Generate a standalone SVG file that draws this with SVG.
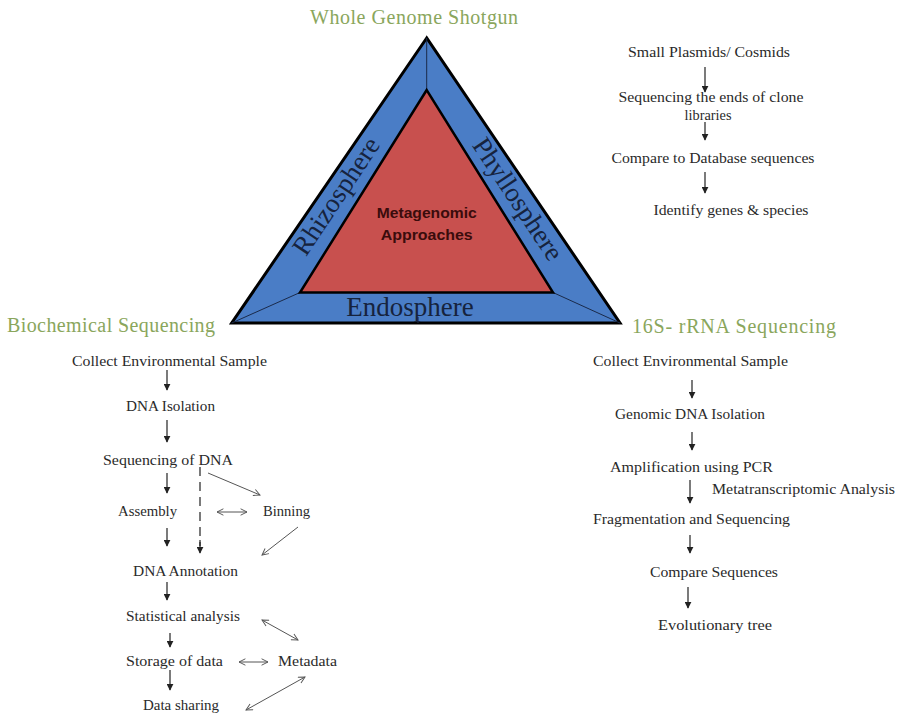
<svg xmlns="http://www.w3.org/2000/svg" width="898" height="715" viewBox="0 0 898 715">
<defs>
<marker id="fa" viewBox="0 0 10 10" refX="9" refY="5" markerWidth="7" markerHeight="7" orient="auto" markerUnits="userSpaceOnUse">
<path d="M0,0 L10,5 L0,10 Z" fill="#222"/>
</marker>
<marker id="oa" viewBox="0 0 10 10" refX="9" refY="5" markerWidth="8" markerHeight="8" orient="auto-start-reverse" markerUnits="userSpaceOnUse">
<path d="M1,1 L9,5 L1,9" fill="none" stroke="#555" stroke-width="1.2"/>
</marker>
</defs>
<style>
.lbl{font-family:'Liberation Serif','Times New Roman',serif;font-size:15px;fill:#2a2a2a;text-anchor:middle}
.h{font-family:'Liberation Serif','Times New Roman',serif;font-size:20px;fill:#8aa65c}
.band{font-family:'Liberation Serif','Times New Roman',serif;font-size:27px;fill:#16233d;text-anchor:middle}
.mg{font-family:'Liberation Sans',Arial,sans-serif;font-size:15px;font-weight:bold;fill:#3a0c0c;text-anchor:middle}
.v{stroke:#222;stroke-width:1.2;fill:none;marker-end:url(#fa)}
.d{stroke:#555;stroke-width:1;fill:none;marker-end:url(#oa)}
.dd{stroke:#555;stroke-width:1;fill:none;marker-end:url(#oa);marker-start:url(#oa)}
.cl{stroke:#1a2a4a;stroke-width:1;fill:none}
</style>
<rect width="898" height="715" fill="#ffffff"/>

<g id="triangle">
<polygon points="426.7,38 231.7,323 620,323" fill="#4a7dc6" stroke="#000" stroke-width="3" stroke-linejoin="miter"/>
<line class="cl" x1="426.7" y1="38" x2="426.7" y2="90"/>
<line class="cl" x1="231.7" y1="323" x2="300" y2="292.5"/>
<line class="cl" x1="620" y1="323" x2="553" y2="292.5"/>
<line class="cl" x1="418" y1="317" x2="418" y2="323"/>
<polygon points="426.7,90 300,292.5 553,292.5" fill="#c8504e" stroke="#000" stroke-width="2.5"/>
<text class="mg" x="426.7" y="218" textLength="100" lengthAdjust="spacingAndGlyphs">Metagenomic</text>
<text class="mg" x="426.7" y="240" textLength="92" lengthAdjust="spacingAndGlyphs">Approaches</text>
<text class="band" transform="translate(336,196) rotate(-56.3)" y="9">Rhizosphere</text>
<text class="band" transform="translate(518,199) rotate(56.3)" y="9">Phyllosphere</text>
<text class="band" x="410" y="316">Endosphere</text>
</g>

<g id="titles">
<text class="h" x="310" y="24" textLength="208">Whole Genome Shotgun</text>
<text class="h" x="7" y="332" textLength="208">Biochemical Sequencing</text>
<text class="h" x="632" y="333" textLength="204">16S- rRNA Sequencing</text>
</g>

<g id="wgs-nodes" font-family="Liberation Serif, Times New Roman, serif">
<text id="wgs1" class="lbl" x="709" y="57" textLength="162" lengthAdjust="spacingAndGlyphs">Small Plasmids/ Cosmids</text>
<text id="wgs2" class="lbl" x="711" y="102" textLength="185" lengthAdjust="spacingAndGlyphs">Sequencing the ends of clone</text>
<text id="wgs3" class="lbl" x="708" y="120" textLength="47" lengthAdjust="spacingAndGlyphs">libraries</text>
<text id="wgs4" class="lbl" x="713" y="163" textLength="203" lengthAdjust="spacingAndGlyphs">Compare to Database sequences</text>
<text id="wgs5" class="lbl" x="731" y="215" textLength="155" lengthAdjust="spacingAndGlyphs">Identify genes &amp; species</text>
</g>

<g id="bio-nodes" font-family="Liberation Serif, Times New Roman, serif">
<text id="b1" class="lbl" x="169.5" y="366" textLength="195" lengthAdjust="spacingAndGlyphs">Collect Environmental Sample</text>
<text id="b2" class="lbl" x="170.5" y="411" textLength="89" lengthAdjust="spacingAndGlyphs">DNA Isolation</text>
<text id="b3" class="lbl" x="168" y="465" textLength="130" lengthAdjust="spacingAndGlyphs">Sequencing of DNA</text>
<text id="b4" class="lbl" x="147.5" y="516" textLength="59" lengthAdjust="spacingAndGlyphs">Assembly</text>
<text id="b5" class="lbl" x="286.5" y="516" textLength="47" lengthAdjust="spacingAndGlyphs">Binning</text>
<text id="b6" class="lbl" x="185.5" y="576" textLength="105" lengthAdjust="spacingAndGlyphs">DNA Annotation</text>
<text id="b7" class="lbl" x="183" y="621" textLength="114" lengthAdjust="spacingAndGlyphs">Statistical analysis</text>
<text id="b8" class="lbl" x="174.5" y="666" textLength="97" lengthAdjust="spacingAndGlyphs">Storage of data</text>
<text id="b9" class="lbl" x="307.5" y="666" textLength="59" lengthAdjust="spacingAndGlyphs">Metadata</text>
<text id="b10" class="lbl" x="181" y="710" textLength="76" lengthAdjust="spacingAndGlyphs">Data sharing</text>
</g>

<g id="rrna-nodes" font-family="Liberation Serif, Times New Roman, serif">
<text id="r1" class="lbl" x="690.5" y="366" textLength="195" lengthAdjust="spacingAndGlyphs">Collect Environmental Sample</text>
<text id="r2" class="lbl" x="690" y="419" textLength="150" lengthAdjust="spacingAndGlyphs">Genomic DNA Isolation</text>
<text id="r3" class="lbl" x="691.5" y="472" textLength="163" lengthAdjust="spacingAndGlyphs">Amplification using PCR</text>
<text id="r4" class="lbl" x="712" y="494" textLength="183" lengthAdjust="spacingAndGlyphs" style="text-anchor:start">Metatranscriptomic Analysis</text>
<text id="r5" class="lbl" x="691.5" y="524" textLength="197" lengthAdjust="spacingAndGlyphs">Fragmentation and Sequencing</text>
<text id="r6" class="lbl" x="714" y="577" textLength="128" lengthAdjust="spacingAndGlyphs">Compare Sequences</text>
<text id="r7" class="lbl" x="715" y="630" textLength="114" lengthAdjust="spacingAndGlyphs">Evolutionary tree</text>
</g>

<g id="connectors">
<line class="v" x1="705" y1="67" x2="705" y2="92"/>
<line class="v" x1="705" y1="122" x2="705" y2="140"/>
<line class="v" x1="705" y1="172" x2="705" y2="193"/>

<line class="v" x1="167" y1="370" x2="167" y2="390"/>
<line class="v" x1="167" y1="420" x2="167" y2="442"/>
<line class="v" x1="167" y1="473" x2="167" y2="493"/>
<line x1="200" y1="467" x2="200" y2="546" stroke="#222" stroke-width="1.2" stroke-dasharray="9,6"/>
<line class="v" x1="200" y1="540" x2="200" y2="553"/>
<line class="d" x1="208" y1="473" x2="260" y2="495"/>
<line class="dd" x1="217" y1="512" x2="247" y2="512"/>
<line class="v" x1="167" y1="528" x2="167" y2="546"/>
<line class="d" x1="298" y1="527" x2="262" y2="555"/>
<line class="v" x1="167" y1="582" x2="167" y2="600"/>
<line class="v" x1="170" y1="633" x2="170" y2="647"/>
<line class="dd" x1="262" y1="620" x2="298" y2="640"/>
<line class="dd" x1="239" y1="662" x2="268" y2="662"/>
<line class="v" x1="170" y1="670" x2="170" y2="690"/>
<line class="dd" x1="246" y1="710" x2="305" y2="677"/>

<line class="v" x1="692" y1="380" x2="692" y2="398"/>
<line class="v" x1="692" y1="432" x2="692" y2="450"/>
<line class="v" x1="690" y1="480" x2="690" y2="503"/>
<line class="v" x1="690" y1="535" x2="690" y2="553"/>
<line class="v" x1="688" y1="587" x2="688" y2="608"/>
</g>
</svg>
